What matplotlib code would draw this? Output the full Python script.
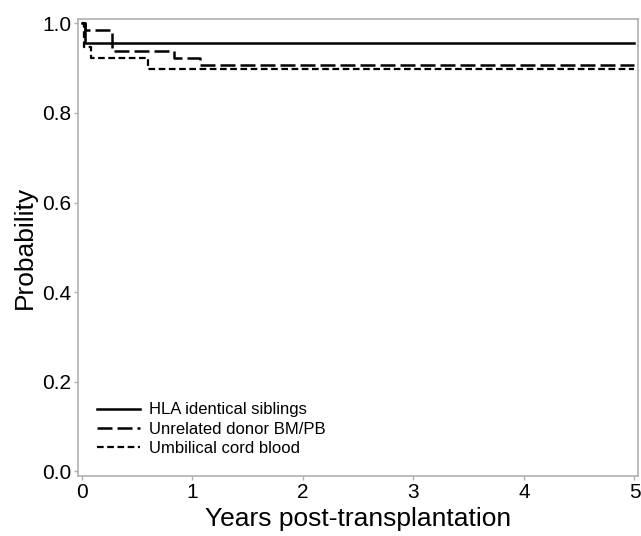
import matplotlib.pyplot as plt
import numpy as np

# step curves: (time, probability) after each drop
hla_t = [0, 0.03, 5]
hla_p = [1.0, 0.955, 0.955]
unrel_t = [0, 0.03, 0.28, 0.84, 1.07, 5]
unrel_p = [1.0, 0.985, 0.937, 0.923, 0.906, 0.906]
cord_t = [0, 0.02, 0.09, 0.60, 5]
cord_p = [1.0, 0.946, 0.923, 0.897, 0.897]

labels = ["HLA identical siblings", "Unrelated donor BM/PB", "Umbilical cord blood"]
xticks = [0, 1, 2, 3, 4, 5]
yticks = [0.0, 0.2, 0.4, 0.6, 0.8, 1.0]

plt.rcParams["font.family"] = ["Liberation Sans", "DejaVu Sans"]

fig = plt.figure(figsize=(6.41, 5.36), dpi=100)
ax = fig.add_axes([0.122, 0.112, 0.873, 0.853])

ax.step(hla_t, hla_p, where="post", color="black", linewidth=1.8, label=labels[0])
ax.step(unrel_t, unrel_p, where="post", color="black", linewidth=1.8,
        dashes=(6, 2), label=labels[1])
ax.step(cord_t, cord_p, where="post", color="black", linewidth=1.6,
        dashes=(3, 1.6), label=labels[2])

ax.set_xlim(-0.03, 5.03)
ax.set_ylim(-0.01, 1.01)
ax.set_xticks(xticks)
ax.set_xticklabels([str(v) for v in xticks])
ax.set_yticks(yticks)
ax.set_yticklabels(["%.1f" % v for v in yticks])

for s in ax.spines.values():
    s.set_color("#b0b0b0")
    s.set_linewidth(1.2)
ax.tick_params(direction="out", length=3, width=1, color="#b0b0b0",
               labelsize=15, pad=2)

ax.set_xlabel("Years post-transplantation", fontsize=19, labelpad=4)
ax.set_ylabel("Probability", fontsize=19, labelpad=4)

ax.legend(loc="lower left", bbox_to_anchor=(0.01, 0.015), frameon=False,
          fontsize=12, handlelength=2.6, handletextpad=0.5,
          labelspacing=0.25, borderpad=0.3)

fig.savefig("out.png", dpi=100)
